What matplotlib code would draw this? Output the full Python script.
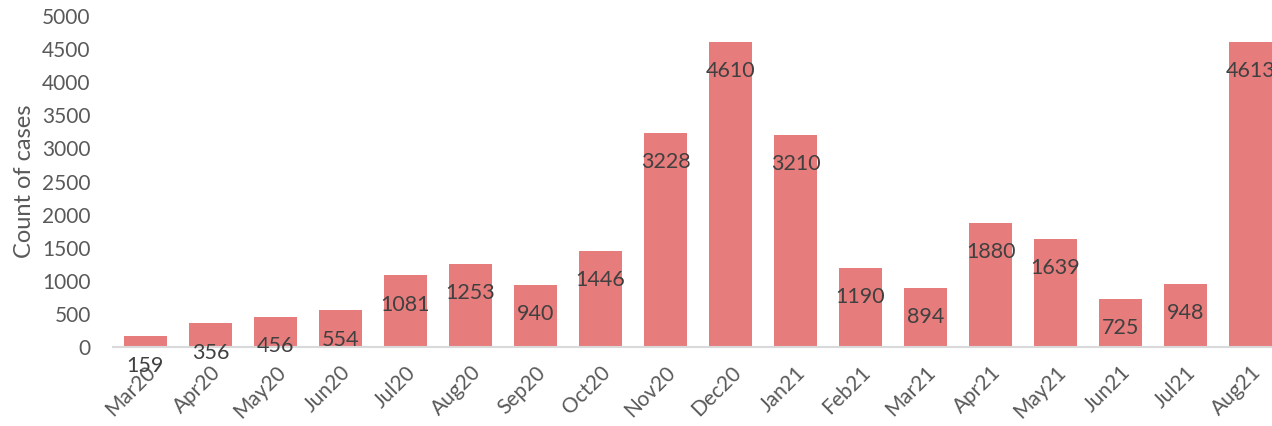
import matplotlib.pyplot as plt

months = ["Mar20", "Apr20", "May20", "Jun20", "Jul20", "Aug20", "Sep20", "Oct20", "Nov20",
          "Dec20", "Jan21", "Feb21", "Mar21", "Apr21", "May21", "Jun21", "Jul21", "Aug21"]
cases = [159, 356, 456, 554, 1081, 1253, 940, 1446, 3228,
         4610, 3210, 1190, 894, 1880, 1639, 725, 948, 4613]

plt.rcParams['font.family'] = ['Lato', 'DejaVu Sans']

fig = plt.figure(figsize=(12.72, 4.26), dpi=100)
ax = fig.add_axes([0.0888, 0.1854, 0.92, 0.777])

x = range(len(months))
ax.bar(x, cases, width=0.66, color="#E77C7C")

# value labels just inside the top of each bar
for i, v in zip(x, cases):
    ax.annotate(str(v), (i, v), xytext=(0, -21), textcoords="offset points",
                ha="center", va="center", fontsize=15.5, color="#404040")

ax.set_xlim(-0.5, 17.5)
ax.set_ylim(0, 5000)
ax.set_yticks(range(0, 5001, 500))
ax.set_xticks(list(x))
ax.set_xticklabels(months, rotation=45, ha="right", rotation_mode="anchor")
ax.tick_params(axis="both", length=0, labelsize=15, labelcolor="#595959")
ax.tick_params(axis="y", pad=16)
ax.tick_params(axis="x", pad=11)
ax.set_ylabel("Count of cases", fontsize=17, color="#595959", labelpad=5)

for side in ["top", "right", "left"]:
    ax.spines[side].set_visible(False)
ax.spines["bottom"].set_color("#D9D9D9")
ax.spines["bottom"].set_linewidth(1.5)

fig.savefig("out.png", dpi=100)
